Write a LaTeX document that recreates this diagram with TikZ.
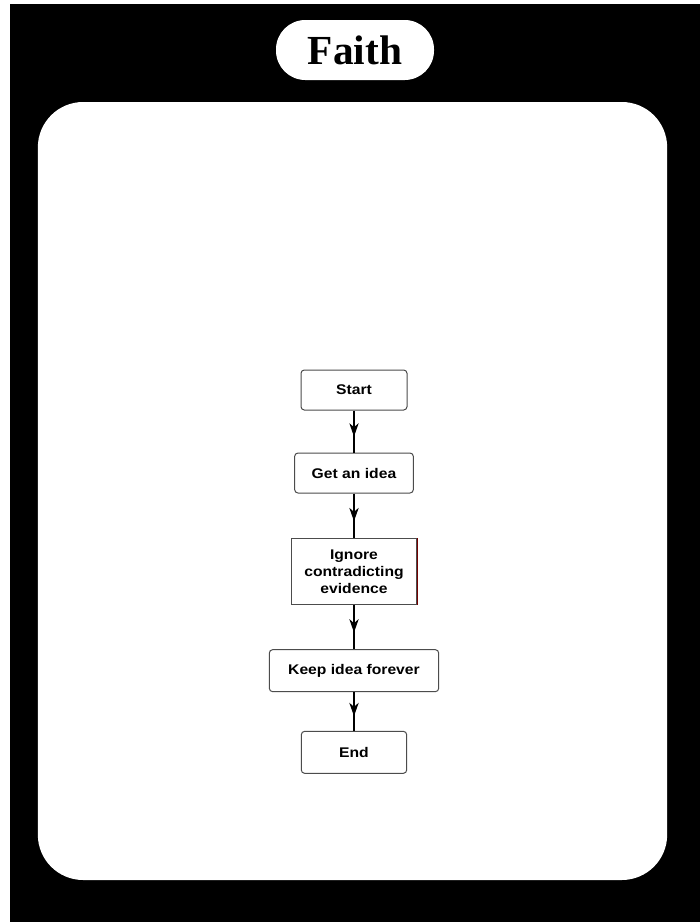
\documentclass[tikz,border=0pt]{standalone}
\usepackage{fontspec}
\setmainfont{Liberation Serif}
\newfontfamily\boxfont{Liberation Sans}[FakeStretch=1.12]
\usetikzlibrary{arrows.meta, positioning, decorations.markings}

\begin{document}
\begin{tikzpicture}[
  x=0.75pt, y=-0.75pt,
  stepbox/.style = {draw=black!70, line width=0.75pt, rounded corners=2.5pt, fill=white,
                    minimum height=30pt, align=center, font=\boxfont\bfseries\fontsize{10.5}{12.5}\selectfont},
  arrow/.style   = {line width=0.8pt, postaction={decorate},
                    decoration={markings, mark=at position 0.62 with {\arrow{Stealth[length=10pt, width=7pt, inset=3pt]}}}},
  node distance=32pt
]

  % canvas and frame
  \useasboundingbox (0,0) rectangle (700,922);
  \fill[white] (0,0) rectangle (700,922);
  \fill[black] (10,4) rectangle (700,922);

  % title pill
  \node[fill=white, rounded corners=22pt, minimum width=118.5pt, minimum height=45pt,
        font=\bfseries\fontsize{31}{36}\selectfont] (title) at (355,50) {Faith};

  % white panel
  \node[fill=white, rounded corners=34pt, minimum width=472pt, minimum height=583.5pt,
        inner sep=0pt] (panel) at (352.5,491) {};

  % flow steps
  \node[stepbox, minimum width=79.5pt] (start) at (354,390) {Start};
  \node[stepbox, minimum width=89pt, below=31.5pt of start] (idea) {Get an idea};
  \node[stepbox, minimum width=94pt, minimum height=49.5pt, rounded corners=0pt,
        below=33.5pt of idea, align=center] (ignore) {Ignore\\contradicting\\evidence};
  \draw[red!45!black, line width=0.8pt] (ignore.north east) -- (ignore.south east);
  \node[stepbox, minimum width=127pt, minimum height=31.5pt, below=33pt of ignore] (keep) {Keep idea forever};
  \node[stepbox, minimum width=79pt, minimum height=31.5pt, below=29pt of keep] (end) {End};

  % connectors
  \draw[arrow] (start.south) -- (idea.north);
  \draw[arrow] (idea.south) -- (ignore.north);
  \draw[arrow] (ignore.south) -- (keep.north);
  \draw[arrow] (keep.south) -- (end.north);

\end{tikzpicture}
\end{document}
